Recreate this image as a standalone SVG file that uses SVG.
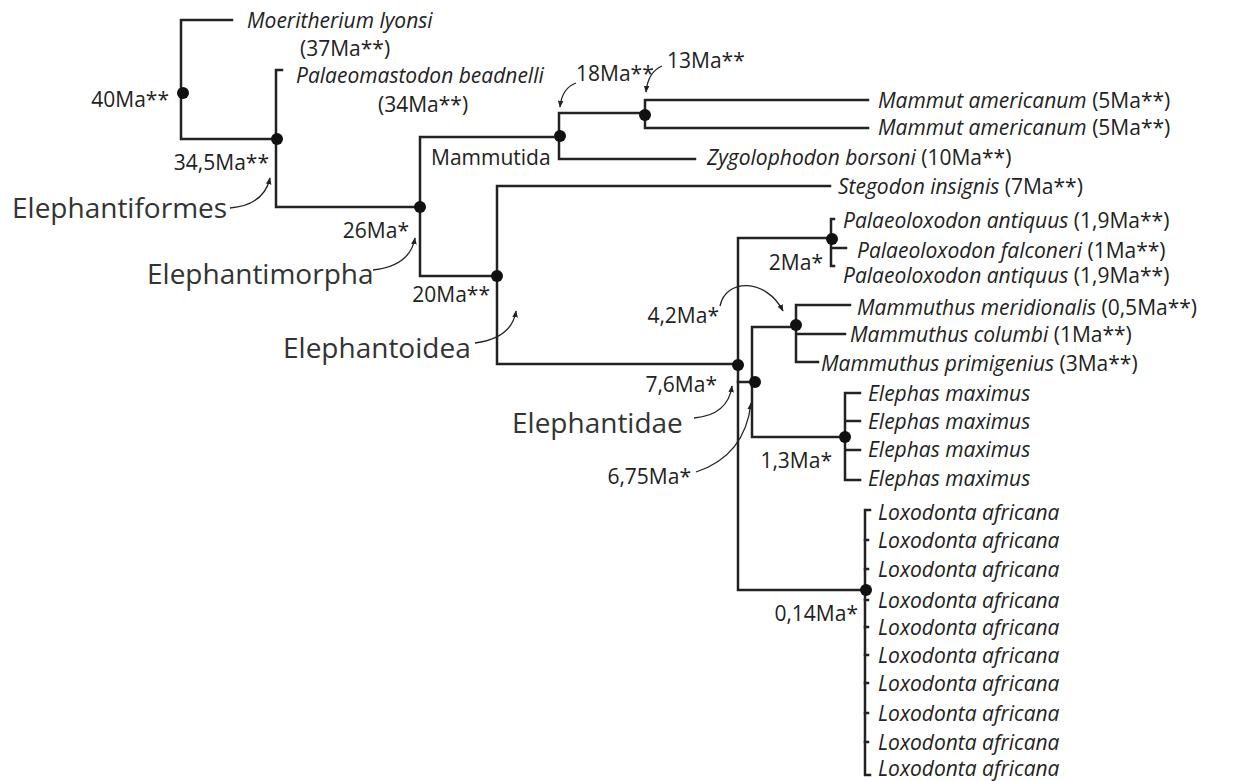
<svg xmlns="http://www.w3.org/2000/svg" width="1236" height="781" viewBox="0 0 1236 781">
<defs>
<marker id="ah" viewBox="0 0 10 10" refX="9" refY="5" markerWidth="7" markerHeight="7" orient="auto" markerUnits="userSpaceOnUse"><path d="M0,1 L10,5 L0,9 z" fill="#222"/></marker>
<style>
.br{fill:none;stroke:#222;stroke-width:2.5;stroke-linecap:square}
.ar{fill:none;stroke:#222;stroke-width:1.3;marker-end:url(#ah)}
.dot{fill:#111}
text{font-family:"Open Sans","Noto Sans","Liberation Sans",sans-serif;fill:#222;dominant-baseline:central}
.sp{font-style:italic;font-size:21px}
.sp tspan.n{font-style:normal}
.age{font-size:21px}
.cl{font-size:28px;fill:#333}
</style>
</defs>
<rect width="1236" height="781" fill="#fff"/>
<g id="connectors">
<path class="br" d="M232,20 H181 V139 H276"/>
<path class="br" d="M282,70 H276 V207 H420"/>
<path class="br" d="M559,137 H420 V276 H497"/>
<path class="br" d="M695,159 H559 V113 H645"/>
<path class="br" d="M868,100 H645 V128 H868"/>
<path class="br" d="M830,186 H497 V364 H738"/>
<path class="br" d="M831,238 H738 V590 H864"/>
<path class="br" d="M834,219 H831 V266 H834 M831,248 H846"/>
<path class="br" d="M738,382 H752"/>
<path class="br" d="M796,327 H752 V437 H845"/>
<path class="br" d="M850,305 H796 V362 H818 M796,334 H845"/>
<path class="br" d="M860,393 H845 V480 H860 M845,421 H860 M845,450 H860"/>
<path class="br" d="M870,510 H865 V775 H870"/>
<path class="br" d="M865,540 H868 M865,569 H868 M865,600 H868 M865,627 H868 M865,655 H868 M865,683 H868 M865,713 H868 M865,742 H868"/>
<path class="ar" d="M230,208 Q264,205 270,178"/>
<path class="ar" d="M373,270 Q410,266 415,238"/>
<path class="ar" d="M475,343 Q512,338 516,311"/>
<path class="ar" d="M576,83 Q562,88 560,107"/>
<path class="ar" d="M662,66 Q648,72 646,92"/>
<path class="ar" d="M720,306 C726,278 766,278 783,311"/>
<path class="ar" d="M694,418 Q728,415 732,386"/>
<path class="ar" d="M696,472 Q745,456 751,403"/>
</g>
<g id="nodes">
<g id="n40"><circle class="dot" cx="183" cy="93" r="6"/><text class="age" x="169" y="99" text-anchor="end">40Ma**</text></g>
<g id="n345"><circle class="dot" cx="277" cy="139" r="6"/><text class="age" x="269" y="162" text-anchor="end">34,5Ma**</text></g>
<g id="n26"><circle class="dot" cx="420" cy="207" r="6"/><text class="age" x="409" y="230" text-anchor="end">26Ma*</text></g>
<g id="n20"><circle class="dot" cx="497" cy="276" r="6"/><text class="age" x="490" y="294" text-anchor="end">20Ma**</text></g>
<g id="n18"><circle class="dot" cx="560" cy="136" r="6"/><text class="age" x="576" y="73">18Ma**</text></g>
<g id="n13"><circle class="dot" cx="645" cy="115" r="6"/><text class="age" x="667" y="60">13Ma**</text></g>
<g id="n76"><circle class="dot" cx="738" cy="365" r="6"/><text class="age" x="717" y="384" text-anchor="end">7,6Ma*</text></g>
<g id="n675"><circle class="dot" cx="755" cy="382" r="6"/><text class="age" x="691" y="476" text-anchor="end">6,75Ma*</text></g>
<g id="n2"><circle class="dot" cx="832" cy="239" r="6"/><text class="age" x="823" y="262" text-anchor="end">2Ma*</text></g>
<g id="n42"><circle class="dot" cx="796" cy="325" r="6"/><text class="age" x="719" y="315" text-anchor="end">4,2Ma*</text></g>
<g id="n13b"><circle class="dot" cx="845" cy="437" r="6"/><text class="age" x="832" y="460" text-anchor="end">1,3Ma*</text></g>
<g id="n014"><circle class="dot" cx="866" cy="590" r="6"/><text class="age" x="858" y="613" text-anchor="end">0,14Ma*</text></g>
<g id="clades">
<text class="cl" x="12" y="207">Elephantiformes</text>
<text class="cl" x="147" y="273">Elephantimorpha</text>
<text class="cl" x="283" y="347">Elephantoidea</text>
<text class="cl" x="512" y="422">Elephantidae</text>
<text class="age" x="431" y="157">Mammutida</text>
</g>
<g id="tips">
<text class="sp" x="247" y="20">Moeritherium lyonsi</text>
<text class="age" x="300" y="48">(37Ma**)</text>
<text class="sp" x="296" y="75">Palaeomastodon beadnelli</text>
<text class="age" x="378" y="104">(34Ma**)</text>
<text class="sp" x="878" y="100">Mammut americanum <tspan class="n">(5Ma**)</tspan></text>
<text class="sp" x="878" y="127">Mammut americanum <tspan class="n">(5Ma**)</tspan></text>
<text class="sp" x="707" y="157">Zygolophodon borsoni  <tspan class="n">(10Ma**)</tspan></text>
<text class="sp" x="838" y="186">Stegodon insignis <tspan class="n">(7Ma**)</tspan></text>
<text class="sp" x="843" y="220">Palaeoloxodon antiquus <tspan class="n">(1,9Ma**)</tspan></text>
<text class="sp" x="857" y="250">Palaeoloxodon falconeri <tspan class="n">(1Ma**)</tspan></text>
<text class="sp" x="843" y="275">Palaeoloxodon antiquus <tspan class="n">(1,9Ma**)</tspan></text>
<text class="sp" x="857" y="307">Mammuthus meridionalis <tspan class="n">(0,5Ma**)</tspan></text>
<text class="sp" x="850" y="334">Mammuthus columbi <tspan class="n">(1Ma**)</tspan></text>
<text class="sp" x="821" y="363">Mammuthus primigenius <tspan class="n">(3Ma**)</tspan></text>
<text class="sp" x="868" y="393">Elephas maximus</text>
<text class="sp" x="868" y="421">Elephas maximus</text>
<text class="sp" x="868" y="449">Elephas maximus</text>
<text class="sp" x="868" y="478">Elephas maximus</text>
<text class="sp" x="878" y="512">Loxodonta africana</text>
<text class="sp" x="878" y="540">Loxodonta africana</text>
<text class="sp" x="878" y="569">Loxodonta africana</text>
<text class="sp" x="878" y="600">Loxodonta africana</text>
<text class="sp" x="878" y="627">Loxodonta africana</text>
<text class="sp" x="878" y="655">Loxodonta africana</text>
<text class="sp" x="878" y="683">Loxodonta africana</text>
<text class="sp" x="878" y="713">Loxodonta africana</text>
<text class="sp" x="878" y="742">Loxodonta africana</text>
<text class="sp" x="878" y="768">Loxodonta africana</text>
</g>
</g>
</svg>
